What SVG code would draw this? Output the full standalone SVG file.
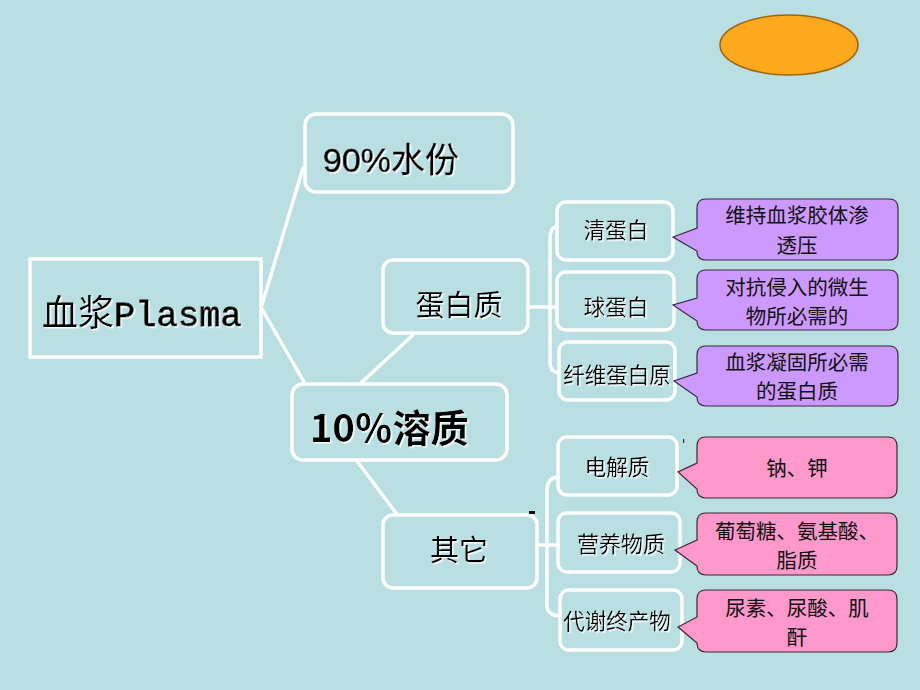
<svg xmlns="http://www.w3.org/2000/svg" width="920" height="690" viewBox="0 0 920 690">
<defs>
<filter id="sh" x="-10%" y="-10%" width="130%" height="140%">
<feDropShadow dx="1.5" dy="1.5" stdDeviation="0.4" flood-color="#ffffff" flood-opacity="0.9"/>
</filter>
<filter id="blur"><feGaussianBlur stdDeviation="0.8"/></filter>
</defs>
<style>
.node{fill:none;stroke:#ffffff;stroke-width:3.5}
.conn{fill:none;stroke:#ffffff;stroke-width:3.5;stroke-linecap:round}
.t{font-family:"Noto Sans CJK SC","Liberation Sans",sans-serif;fill:#000;text-anchor:middle;filter:url(#sh)}
.purple{fill:#CC99FF;stroke:#3a2a40;stroke-width:1.2}
.pink{fill:#FF99CC;stroke:#3a2a30;stroke-width:1.2}
.ct{font-family:"Noto Sans CJK SC","Liberation Sans",sans-serif;font-size:20.5px;fill:#111;text-anchor:middle}
</style>
<rect width="920" height="690" fill="#B9DFE2"/>
<line x1="89" y1="20" x2="163" y2="20" stroke="#d3ecee" stroke-width="2" filter="url(#blur)"/>
<ellipse cx="789" cy="45" rx="69" ry="30" fill="#FDA91D" stroke="#9E6512" stroke-width="1.6"/>

<g id="connectors">
<line class="conn" x1="262" y1="305" x2="303" y2="168"/>
<line class="conn" x1="262" y1="309" x2="304" y2="382"/>
<line class="conn" x1="362" y1="382" x2="413" y2="335"/>
<line class="conn" x1="357" y1="461" x2="396" y2="513"/>
<line class="conn" x1="528" y1="307" x2="557" y2="307"/>
<path class="conn" d="M557,226 Q550,228 550,238 V362 Q550,372 559,373"/>
<line class="conn" x1="537" y1="545" x2="558" y2="545"/>
<path class="conn" d="M558,477 Q547,478 547,490 V605 Q547,615 559,616"/>
</g>

<g id="plasma">
<rect class="node" x="30" y="259" width="231" height="98"/>
<text x="42" y="326" filter="url(#sh)" fill="#000"><tspan font-family="Noto Sans CJK SC, sans-serif" font-size="36">血浆</tspan><tspan font-family="Liberation Mono, monospace" font-size="35.5" stroke="#000" stroke-width="0.8">Plasma</tspan></text>
</g>

<g id="water">
<rect class="node" x="305" y="114" width="208" height="78" rx="11"/>
<text x="323" y="172" font-family="Liberation Sans, Noto Sans CJK SC, sans-serif" font-size="34" stroke="#000" stroke-width="0.6" filter="url(#sh)" fill="#000">90%<tspan font-family="Noto Sans CJK SC, sans-serif" stroke-width="0.3">水份</tspan></text>
</g>

<g id="solute">
<rect class="node" x="292" y="384" width="215" height="76" rx="11"/>
<text x="310" y="442" font-family="Noto Sans CJK SC, sans-serif" font-size="38" font-weight="bold" filter="url(#sh)" fill="#000">10％溶质</text>
</g>

<g id="protein">
<rect class="node" x="383" y="260" width="145" height="73" rx="10"/>
<text class="t" x="459" y="316" font-size="29">蛋白质</text>
</g>

<g id="other">
<rect class="node" x="383" y="515" width="154" height="73" rx="10"/>
<text class="t" x="459" y="561" font-size="29">其它</text>
</g>

<g id="albumin">
<rect class="node" x="557" y="202" width="116" height="58" rx="9"/>
<text class="t" x="616" y="238" font-size="21.5">清蛋白</text>
</g>
<g id="globulin">
<rect class="node" x="557" y="272" width="117" height="58" rx="9"/>
<text class="t" x="616" y="315" font-size="21.5">球蛋白</text>
</g>
<g id="fibrinogen">
<rect class="node" x="559" y="342" width="116" height="58" rx="9"/>
<text class="t" x="617" y="383" font-size="21.5">纤维蛋白原</text>
</g>
<g id="electrolyte">
<rect class="node" x="558" y="437" width="119" height="58" rx="9"/>
<text class="t" x="617" y="475" font-size="21.5">电解质</text>
</g>
<g id="nutrient">
<rect class="node" x="558" y="513" width="122" height="59" rx="9"/>
<text class="t" x="621" y="552" font-size="22">营养物质</text>
</g>
<g id="waste">
<rect class="node" x="560" y="590" width="122" height="60" rx="9"/>
<text class="t" x="617" y="629" font-size="21.5">代谢终产物</text>
</g>

<g id="callout-albumin">
<path class="purple" d="M706,199 H889 Q898,199 898,208 V251 Q898,260 889,260 H706 Q697,260 697,251 L673,237 L697,228 V208 Q697,199 706,199 Z"/>
<text class="ct" x="797" y="223">维持血浆胶体渗</text>
<text class="ct" x="797" y="253">透压</text>
</g>
<g id="callout-globulin">
<path class="purple" d="M706,270 H889 Q898,270 898,279 V321 Q898,330 889,330 H706 Q697,330 697,321 L673,305 L697,298 V279 Q697,270 706,270 Z"/>
<text class="ct" x="797" y="295">对抗侵入的微生</text>
<text class="ct" x="797" y="324">物所必需的</text>
</g>
<g id="callout-fibrinogen">
<path class="purple" d="M706,346 H889 Q898,346 898,355 V397 Q898,406 889,406 H706 Q697,406 697,397 L674,381 L697,373 V355 Q697,346 706,346 Z"/>
<text class="ct" x="797" y="370">血浆凝固所必需</text>
<text class="ct" x="797" y="399">的蛋白质</text>
</g>
<g id="callout-electrolyte">
<path class="pink" d="M706,437 H888 Q897,437 897,446 V489 Q897,498 888,498 H706 Q697,498 697,489 L678,472 L697,463 V446 Q697,437 706,437 Z"/>
<text class="ct" x="797" y="476">钠、钾</text>
</g>
<g id="callout-nutrient">
<path class="pink" d="M706,513 H888 Q897,513 897,522 V566 Q897,575 888,575 H706 Q697,575 697,566 L675,550 L697,540 V522 Q697,513 706,513 Z"/>
<text class="ct" x="797" y="539">葡萄糖、氨基酸、</text>
<text class="ct" x="797" y="568">脂质</text>
</g>
<g id="callout-waste">
<path class="pink" d="M706,590 H888 Q897,590 897,599 V643 Q897,652 888,652 H706 Q697,652 697,643 L678,627 L697,617 V599 Q697,590 706,590 Z"/>
<text class="ct" x="797" y="616">尿素、尿酸、肌</text>
<text class="ct" x="797" y="645">酐</text>
</g>

<rect x="529" y="511" width="6" height="3" fill="#111"/>
<rect x="683" y="439" width="1.2" height="4" fill="#333"/>
</svg>
